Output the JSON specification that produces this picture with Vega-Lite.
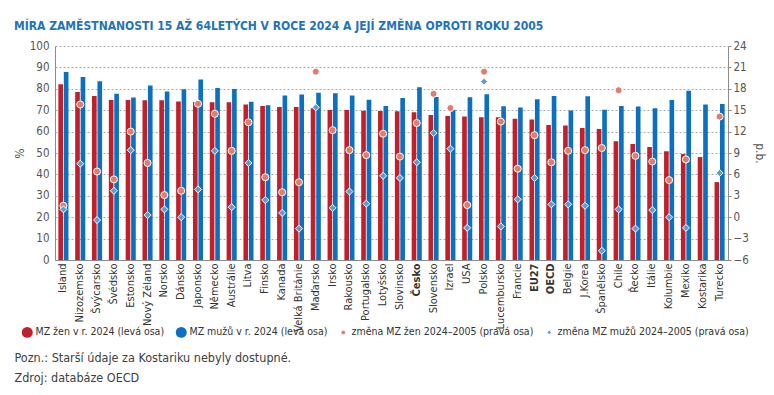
{
  "$schema": "https://vega.github.io/schema/vega-lite/v6.json",
  "autosize": {"type": "none"},
  "width": 673,
  "height": 214,
  "padding": {"left": 55, "top": 46, "right": 46, "bottom": 135},
  "background": "white",
  "config": {
    "font": "DejaVu Sans Condensed, Liberation Sans Narrow, Liberation Sans, sans-serif",
    "view": {"stroke": null}
  },
  "title": {
    "text": "MÍRA ZAMĚSTNANOSTI 15 AŽ 64LETÝCH V ROCE 2024 A JEJÍ ZMĚNA OPROTI ROKU 2005",
    "anchor": "start",
    "frame": "group",
    "dx": -41,
    "dy": 21,
    "offset": 19,
    "baseline": "alphabetic",
    "fontSize": 12,
    "fontWeight": "bold",
    "color": "#1f74bb"
  },
  "data": {
    "values": [
      {"c": "Island", "zeny": 82.1, "muzi": 87.9, "dzeny": 1.6, "dmuzi": 1.1},
      {"c": "Nizozemsko", "zeny": 78.5, "muzi": 85.5, "dzeny": 15.8, "dmuzi": 7.5},
      {"c": "Švýcarsko", "zeny": 76.6, "muzi": 83.5, "dzeny": 6.4, "dmuzi": -0.4},
      {"c": "Švédsko", "zeny": 74.8, "muzi": 77.7, "dzeny": 5.3, "dmuzi": 3.7},
      {"c": "Estonsko", "zeny": 74.8, "muzi": 75.9, "dzeny": 12.0, "dmuzi": 9.4},
      {"c": "Nový Zéland", "zeny": 74.6, "muzi": 81.6, "dzeny": 7.6, "dmuzi": 0.3},
      {"c": "Norsko", "zeny": 74.6, "muzi": 78.7, "dzeny": 3.1, "dmuzi": 1.1},
      {"c": "Dánsko", "zeny": 74.1, "muzi": 79.8, "dzeny": 3.7, "dmuzi": 0.0},
      {"c": "Japonsko", "zeny": 73.8, "muzi": 84.3, "dzeny": 15.9, "dmuzi": 3.9},
      {"c": "Německo", "zeny": 73.7, "muzi": 80.4, "dzeny": 14.5, "dmuzi": 9.3},
      {"c": "Austrálie", "zeny": 73.7, "muzi": 79.9, "dzeny": 9.3, "dmuzi": 1.4},
      {"c": "Litva", "zeny": 72.7, "muzi": 74.0, "dzeny": 13.3, "dmuzi": 7.6},
      {"c": "Finsko", "zeny": 72.0, "muzi": 72.3, "dzeny": 5.6, "dmuzi": 2.4},
      {"c": "Kanada", "zeny": 71.5, "muzi": 76.9, "dzeny": 3.5, "dmuzi": 0.6},
      {"c": "Velká Británie", "zeny": 71.5, "muzi": 77.3, "dzeny": 4.9, "dmuzi": -1.6},
      {"c": "Maďarsko", "zeny": 70.9, "muzi": 78.2, "dzeny": 20.4, "dmuzi": 15.4},
      {"c": "Irsko", "zeny": 70.1, "muzi": 77.9, "dzeny": 12.2, "dmuzi": 1.3},
      {"c": "Rakousko", "zeny": 70.1, "muzi": 76.9, "dzeny": 9.4, "dmuzi": 3.6},
      {"c": "Portugalsko", "zeny": 69.8, "muzi": 74.9, "dzeny": 8.7, "dmuzi": 1.9},
      {"c": "Lotyšsko", "zeny": 69.6, "muzi": 72.0, "dzeny": 11.7, "dmuzi": 5.8},
      {"c": "Slovinsko", "zeny": 69.5, "muzi": 75.7, "dzeny": 8.5, "dmuzi": 5.5},
      {"c": "Česko", "zeny": 69.0, "muzi": 80.7, "dzeny": 13.2, "dmuzi": 7.7},
      {"c": "Slovensko", "zeny": 67.8, "muzi": 76.2, "dzeny": 17.3, "dmuzi": 11.8},
      {"c": "Izrael", "zeny": 67.3, "muzi": 70.2, "dzeny": 15.3, "dmuzi": 9.6},
      {"c": "USA", "zeny": 67.0, "muzi": 76.0, "dzeny": 1.7, "dmuzi": -1.5},
      {"c": "Polsko", "zeny": 66.7, "muzi": 77.4, "dzeny": 20.4, "dmuzi": 19.0},
      {"c": "Lucembursko", "zeny": 66.7, "muzi": 71.8, "dzeny": 13.4, "dmuzi": -1.3},
      {"c": "Francie", "zeny": 66.0, "muzi": 71.3, "dzeny": 6.8, "dmuzi": 2.5},
      {"c": "EU27", "zeny": 65.7, "muzi": 75.1, "dzeny": 11.5, "dmuzi": 5.5},
      {"c": "OECD", "zeny": 63.1, "muzi": 76.6, "dzeny": 7.7, "dmuzi": 1.8},
      {"c": "Belgie", "zeny": 62.9, "muzi": 69.9, "dzeny": 9.3, "dmuzi": 1.8},
      {"c": "J.Korea", "zeny": 61.7, "muzi": 76.5, "dzeny": 9.4, "dmuzi": 1.6},
      {"c": "Španělsko", "zeny": 61.2, "muzi": 70.2, "dzeny": 9.7, "dmuzi": -4.7},
      {"c": "Chile", "zeny": 55.5, "muzi": 72.0, "dzeny": 17.8, "dmuzi": 1.1},
      {"c": "Řecko", "zeny": 54.2, "muzi": 71.7, "dzeny": 8.6, "dmuzi": -1.6},
      {"c": "Itálie", "zeny": 52.8, "muzi": 70.9, "dzeny": 7.8, "dmuzi": 1.0},
      {"c": "Kolumbie", "zeny": 50.8, "muzi": 74.8, "dzeny": 5.2, "dmuzi": 0.0},
      {"c": "Mexiko", "zeny": 49.5, "muzi": 79.1, "dzeny": 8.1, "dmuzi": -1.5},
      {"c": "Kostarika", "zeny": 48.1, "muzi": 72.7, "dzeny": null, "dmuzi": null},
      {"c": "Turecko", "zeny": 36.4, "muzi": 72.9, "dzeny": 14.1, "dmuzi": 6.2}
    ]
  },
  "encoding": {
    "x": {
      "field": "c",
      "type": "nominal",
      "sort": null,
      "scale": {"paddingInner": 0.4, "paddingOuter": 0.2},
      "axis": {
        "labelAngle": -90,
        "labelAlign": "right",
        "labelBaseline": "middle",
        "labelPadding": 3,
        "labelFontSize": 11,
        "labelColor": "#333333",
        "labelFontWeight": {"condition": {"test": "indexof(['Česko','EU27','OECD'], datum.value) >= 0", "value": "bold"}, "value": "normal"},
        "ticks": false,
        "domainColor": "#8c8c8c",
        "title": ["Pozn.: Starší údaje za Kostariku nebyly dostupné.", "Zdroj: databáze OECD"],
        "titleAnchor": "start",
        "titleAlign": "left",
        "titleBaseline": "alphabetic",
        "titleAngle": 0,
        "titleX": -41,
        "titleY": 101,
        "titleLineHeight": 20,
        "titleFontSize": 12.5,
        "titleFontWeight": "normal",
        "titleColor": "#404040"
      }
    }
  },
  "layer": [
    {
      "transform": [{"fold": ["zeny", "muzi"], "as": ["serie", "val"]}],
      "mark": {"type": "bar"},
      "encoding": {
        "xOffset": {"field": "serie", "type": "nominal", "scale": {"domain": ["zeny", "muzi"], "paddingInner": 0.15}},
        "y": {
          "field": "val",
          "type": "quantitative",
          "scale": {"domain": [0, 100], "nice": false},
          "axis": {
            "orient": "left",
            "values": [0, 10, 20, 30, 40, 50, 60, 70, 80, 90, 100],
            "title": "%",
            "titleFontWeight": "normal",
            "titleFontSize": 12,
            "titleColor": "#555555",
            "titlePadding": 3,
            "labelFontSize": 11.5,
            "labelColor": "#555555",
            "labelPadding": 6,
            "ticks": false,
            "domain": true,
            "domainColor": "#8c8c8c",
            "grid": true,
            "gridColor": "#aaaaaa",
            "gridDash": [2, 2]
          }
        },
        "color": {
          "field": "serie",
          "type": "nominal",
          "scale": {"domain": ["zeny", "muzi", "dzeny", "dmuzi"], "range": ["#c0202a", "#0a70bf", "#e07d6c", "#5f9bd6"]},
          "legend": {
            "title": null,
            "orient": "none",
            "legendX": -33,
            "legendY": 281,
            "direction": "horizontal",
            "columns": 4,
            "columnPadding": 10,
            "labelOffset": 3,
            "labelFontSize": 10.5,
            "labelColor": "#333333",
            "labelLimit": 300,
            "symbolType": "circle",
            "symbolStrokeWidth": 0,
            "symbolOpacity": 1,
            "labelExpr": "datum.value == 'zeny' ? 'MZ žen v r. 2024 (levá osa)' : datum.value == 'muzi' ? 'MZ mužů v r. 2024 (levá osa)' : datum.value == 'dzeny' ? 'změna MZ žen 2024–2005 (pravá osa)' : 'změna MZ mužů 2024–2005 (pravá osa)'",
            "encode": {
              "symbols": {
                "update": {
                  "shape": {"signal": "datum.value == 'dmuzi' ? 'diamond' : 'circle'"},
                  "size": {"signal": "datum.value == 'zeny' || datum.value == 'muzi' ? 120 : 14"}
                }
              }
            }
          }
        }
      }
    },
    {
      "transform": [
        {"fold": ["dzeny", "dmuzi"], "as": ["serie", "chg"]},
        {"filter": "isValid(datum.chg)"}
      ],
      "mark": {"type": "point", "filled": true, "stroke": "white", "strokeWidth": 1, "opacity": 1},
      "encoding": {
        "y": {
          "field": "chg",
          "type": "quantitative",
          "scale": {"domain": [-6, 24], "nice": false},
          "axis": {
            "orient": "right",
            "values": [-6, -3, 0, 3, 6, 9, 12, 15, 18, 21, 24],
            "title": "p.b.",
            "titleFontWeight": "normal",
            "titleFontSize": 12,
            "titleColor": "#555555",
            "titlePadding": 4,
            "labelFontSize": 11.5,
            "labelColor": "#555555",
            "labelPadding": 2,
            "ticks": true,
            "tickSize": 3,
            "tickColor": "#8c8c8c",
            "domain": true,
            "domainColor": "#8c8c8c",
            "grid": false
          }
        },
        "color": {"field": "serie", "type": "nominal"},
        "shape": {"field": "serie", "type": "nominal", "scale": {"domain": ["dzeny", "dmuzi"], "range": ["circle", "diamond"]}, "legend": null},
        "size": {"value": 50}
      }
    }
  ],
  "resolve": {"scale": {"y": "independent"}}
}
